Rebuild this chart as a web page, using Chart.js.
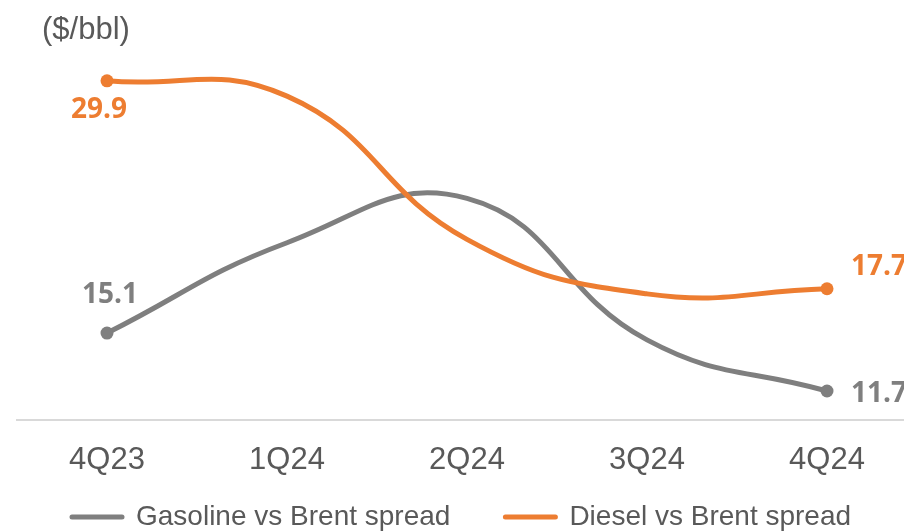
<!DOCTYPE html>
<html>
<head>
<meta charset="utf-8">
<script src="https://cdn.jsdelivr.net/npm/chart.js@4.4.1/dist/chart.umd.min.js"></script>
<style>
  html, body { margin: 0; padding: 0; background: #fff; overflow: hidden; }
  #contenedor { width: 940px; height: 541px; position: relative; }
</style>
</head>
<body>
<div id="contenedor"><canvas id="myChart"></canvas></div>
<script>
  // datos
  const trimestres = ['4Q23', '1Q24', '2Q24', '3Q24', '4Q24'];
  const gasolinaSpread = [15.1, 20.4, 23.0, 14.7, 11.7];
  const dieselSpread = [29.9, 29.0, 20.6, 17.4, 17.7];
  const puntosConEtiqueta = [0, 4];
  const unidad = '($/bbl)';

  const colorGris = '#7f7f7f';
  const colorNaranja = '#ed7d31';
  const colorTexto = '#595959';
  const fuente = "'Liberation Sans', Arial, sans-serif";

  // donde va cada etiqueta respecto a su punto (dataset -> indice)
  const posEtiquetas = [
    { 0: { dx: 3, dy: -38, align: 'center' }, 4: { dx: 24, dy: 3, align: 'left' } },
    { 0: { dx: -8, dy: 29, align: 'center' }, 4: { dx: 24, dy: -22, align: 'left' } }
  ];

  const etiquetasPlugin = {
    id: 'etiquetas',
    afterLayout(chart) {
      // el eje x es bajo para dejar sitio a la leyenda, pero no hay que recortar sus textos
      chart.scales.x.bottom = chart.scales.x.top + 70;
    },
    afterDatasetsDraw(chart) {
      const ctx = chart.ctx;
      ctx.save();
      ctx.font = "bold 28px 'Open Sans', sans-serif";
      ctx.textBaseline = 'middle';
      chart.data.datasets.forEach((ds, i) => {
        const meta = chart.getDatasetMeta(i);
        puntosConEtiqueta.forEach(idx => {
          const pt = meta.data[idx];
          const pos = posEtiquetas[i][idx];
          ctx.fillStyle = ds.borderColor;
          ctx.textAlign = pos.align;
          ctx.fillText(ds.data[idx].toFixed(1), pt.x + pos.dx, pt.y + pos.dy);
        });
      });
      // titulo de unidades arriba a la izquierda
      ctx.font = '31px ' + fuente;
      ctx.fillStyle = colorTexto;
      ctx.textAlign = 'left';
      ctx.fillText(unidad, chart.chartArea.left + 25, chart.chartArea.top - 15);
      ctx.restore();
    }
  };

  const ctx = document.getElementById('myChart');
  const grafico = new Chart(ctx, {
    type: 'line',
    data: {
      labels: trimestres,
      datasets: [{
        label: 'Gasoline vs Brent spread',
        data: gasolinaSpread,
        borderColor: colorGris,
        backgroundColor: colorGris,
        borderWidth: 5,
        borderCapStyle: 'round',
        tension: 0.45,
        order: 1,
        pointRadius: c => puntosConEtiqueta.includes(c.dataIndex) ? 6.5 : 0,
        pointBorderWidth: 0,
        pointBackgroundColor: colorGris
      }, {
        label: 'Diesel vs Brent spread',
        data: dieselSpread,
        borderColor: colorNaranja,
        backgroundColor: colorNaranja,
        borderWidth: 5,
        borderCapStyle: 'round',
        tension: 0.45,
        order: 0,
        pointRadius: c => puntosConEtiqueta.includes(c.dataIndex) ? 6.5 : 0,
        pointBorderWidth: 0,
        pointBackgroundColor: colorNaranja
      }]
    },
    options: {
      responsive: true,
      maintainAspectRatio: false,
      animation: false,
      layout: { padding: { left: 17, right: 23, top: 45, bottom: 0 } },
      scales: {
        y: { display: false, min: 10, max: 32 },
        x: {
          offset: true,
          grid: { display: false, drawTicks: false },
          border: { display: true, color: '#d9d9d9', width: 2 },
          ticks: { color: colorTexto, font: { family: fuente, size: 31 }, padding: 22, maxRotation: 0 },
          afterFit(scale) { scale.height = 28; }
        }
      },
      plugins: {
        tooltip: { enabled: false },
        legend: {
          position: 'bottom',
          align: 'start',
          reverse: true,
          labels: {
            color: colorTexto,
            font: { family: fuente, size: 28 },
            usePointStyle: true,
            pointStyleWidth: 50,
            boxHeight: 5,
            padding: 55,
            generateLabels(chart) {
              const items = Chart.defaults.plugins.legend.labels.generateLabels(chart);
              items.forEach(it => {
                const ds = chart.data.datasets[it.datasetIndex];
                it.pointStyle = 'line';
                it.lineWidth = 5;
                it.lineCap = 'round';
                it.strokeStyle = ds.borderColor;
                it.fillStyle = ds.borderColor;
                it.fontColor = colorTexto;
              });
              return items;
            }
          }
        }
      }
    },
    plugins: [etiquetasPlugin]
  });
</script>
</body>
</html>
